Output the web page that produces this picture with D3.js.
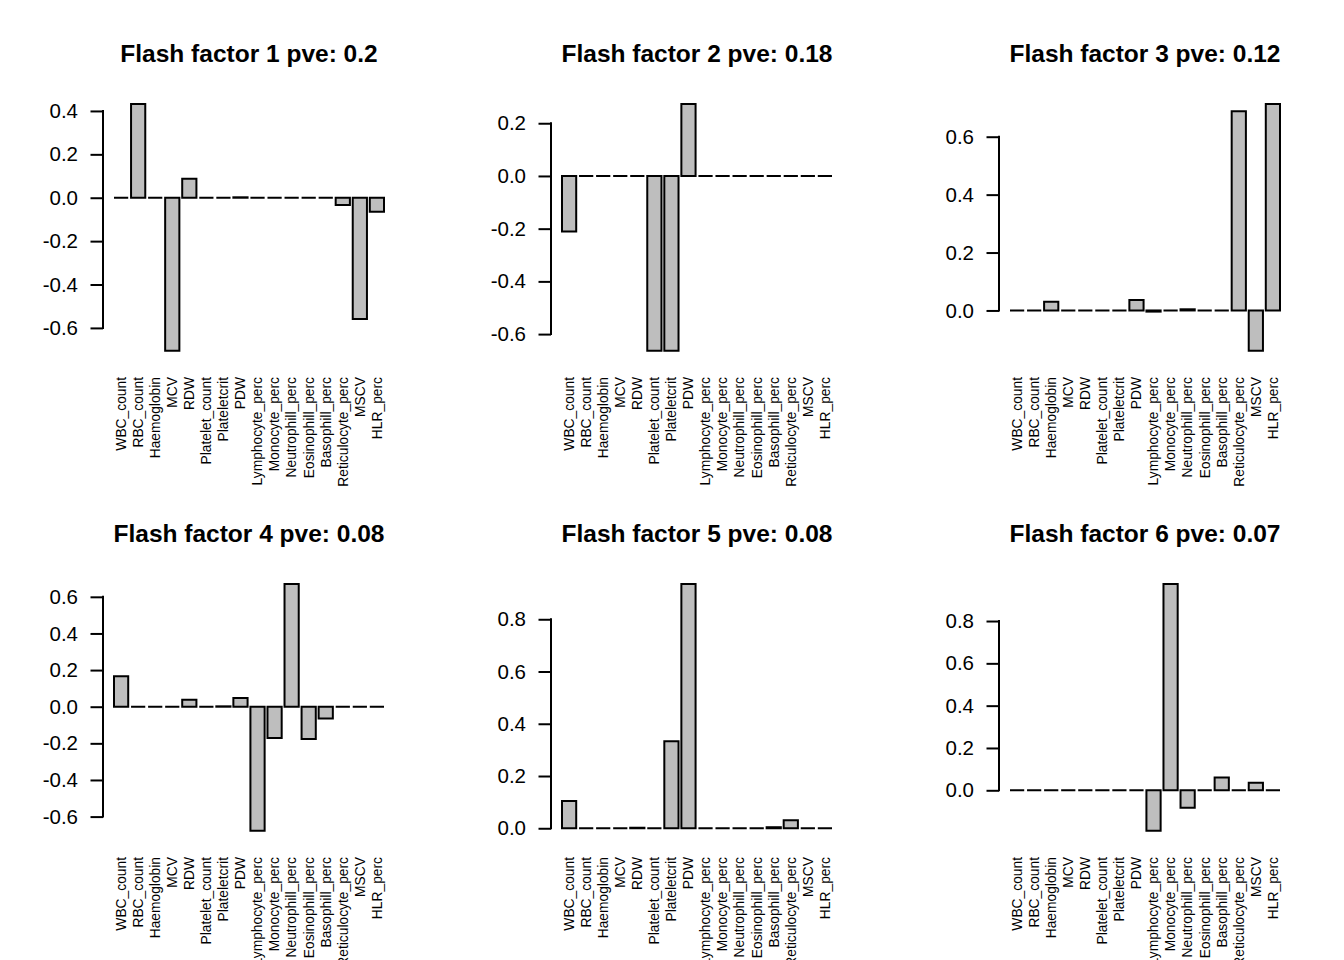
<!DOCTYPE html>
<html>
<head>
<meta charset="utf-8">
<script src="https://cdn.jsdelivr.net/npm/d3@7/dist/d3.min.js"></script>
<style>
  html, body { margin: 0; padding: 0; background: #fff; }
  svg { display: block; font-family: "Liberation Sans", Arial, Helvetica, sans-serif; }
</style>
</head>
<body>
<svg id="chart" width="1344" height="960"></svg>
<script>
// ---- data ----
const categories = ["WBC_count","RBC_count","Haemoglobin","MCV","RDW","Platelet_count","Plateletcrit","PDW",
  "Lymphocyte_perc","Monocyte_perc","Neutrophill_perc","Eosinophill_perc","Basophill_perc","Reticulocyte_perc","MSCV","HLR_perc"];

const factor1 = [0, 0.432, 0, -0.705, 0.088, 0, 0, 0.002, 0, 0, 0, 0, 0, -0.033, -0.559, -0.065];
const factor2 = [-0.211, 0, 0, 0, 0, -0.663, -0.663, 0.273, 0, 0, 0, 0, 0, 0, 0, 0];
const factor3 = [0, 0, 0.030, 0, 0, 0, 0, 0.036, -0.004, 0, 0.004, 0, 0, 0.688, -0.139, 0.713];
const factor4 = [0.166, 0, 0, 0, 0.038, 0, 0.002, 0.047, -0.677, -0.171, 0.670, -0.176, -0.065, 0, 0, 0];
const factor5 = [0.104, 0, 0, 0, 0.002, 0, 0.333, 0.935, 0, 0, 0, 0, 0.004, 0.031, 0, 0];
const factor6 = [0, 0, 0, 0, 0, 0, 0, 0, -0.191, 0.975, -0.082, 0, 0.060, 0, 0.036, 0];

const factorNames = ["1", "2", "3", "4", "5", "6"];
const pveLabels = ["0.2", "0.18", "0.12", "0.08", "0.08", "0.07"];

const ticks1 = [-0.6, -0.4, -0.2, 0.0, 0.2, 0.4];
const ticks2 = [-0.6, -0.4, -0.2, 0.0, 0.2];
const ticks3 = [0.0, 0.2, 0.4, 0.6];
const ticks4 = [-0.6, -0.4, -0.2, 0.0, 0.2, 0.4, 0.6];
const ticks5 = [0.0, 0.2, 0.4, 0.6, 0.8];
const ticks6 = [0.0, 0.2, 0.4, 0.6, 0.8];

const factorValues = [factor1, factor2, factor3, factor4, factor5, factor6];
const factorTicks = [ticks1, ticks2, ticks3, ticks4, ticks5, ticks6];

// ---- layout ----
const svg = d3.select("#chart");
const panelW = 448, panelH = 480;
const barLeft = 114, barRight = 384;
const axisX = 103;
const dataTop = 104, dataBottom = 350.7;
const plotCenterX = 249;
const fmt = v => d3.format(".1f")(v).replace("\u2212", "-");

factorValues.forEach((vals, i) => {
  const col = i % 3, row = Math.floor(i / 3);
  const ox = col * panelW, oy = row * panelH;
  const g = svg.append("g").attr("transform", `translate(${ox},${oy})`);

  const x = d3.scaleBand().domain(categories).range([barLeft, barRight])
    .paddingInner(0.2 / 1.2).paddingOuter(0);

  // R barplot: ylim = range(height, -0.01*height)
  const ext = d3.extent(vals.concat(vals.map(v => -0.01 * v)));
  const y = d3.scaleLinear().domain(ext).range([dataBottom, dataTop]);

  // title
  g.append("text")
    .attr("x", plotCenterX).attr("y", 62)
    .attr("text-anchor", "middle")
    .attr("font-weight", "bold")
    .attr("font-size", 24.5)
    .text(`Flash factor ${factorNames[i]} pve: ${pveLabels[i]}`);

  // bars (paths so zero-height bars still stroke)
  g.selectAll("path.bar").data(vals).join("path")
    .attr("class", "bar")
    .attr("d", (v, j) => {
      const x0 = x(categories[j]), w = x.bandwidth();
      const yTop = y(Math.max(0, v)), yBot = y(Math.min(0, v));
      return `M${x0},${yBot}H${x0 + w}V${yTop}H${x0}Z`;
    })
    .attr("fill", "#bebebe")
    .attr("stroke", "#000")
    .attr("stroke-width", 2)
    .attr("stroke-linejoin", "miter");

  // y axis
  const ticks = factorTicks[i];
  const axis = d3.axisLeft(y).tickValues(ticks).tickFormat(fmt)
    .tickSize(12.5).tickPadding(12.5);
  const ag = g.append("g").attr("transform", `translate(${axisX},0)`).call(axis);
  ag.select(".domain").remove();
  ag.selectAll(".tick line").attr("stroke", "#000").attr("stroke-width", 2);
  ag.selectAll(".tick text").attr("font-size", 20.5).attr("fill", "#000")
    .attr("font-family", "Liberation Sans, Arial, Helvetica, sans-serif");
  ag.append("line")
    .attr("x1", 0).attr("x2", 0)
    .attr("y1", y(d3.min(ticks))).attr("y2", y(d3.max(ticks)))
    .attr("stroke", "#000").attr("stroke-width", 2).attr("stroke-linecap", "square");

  // category labels (las = 2)
  g.selectAll("text.cat").data(categories).join("text")
    .attr("class", "cat")
    .attr("transform", d => `translate(${x(d) + x.bandwidth() / 2},377) rotate(-90)`)
    .attr("text-anchor", "end")
    .attr("dy", "0.35em")
    .attr("font-size", 13.8)
    .text(d => d);
});
</script>
</body>
</html>
